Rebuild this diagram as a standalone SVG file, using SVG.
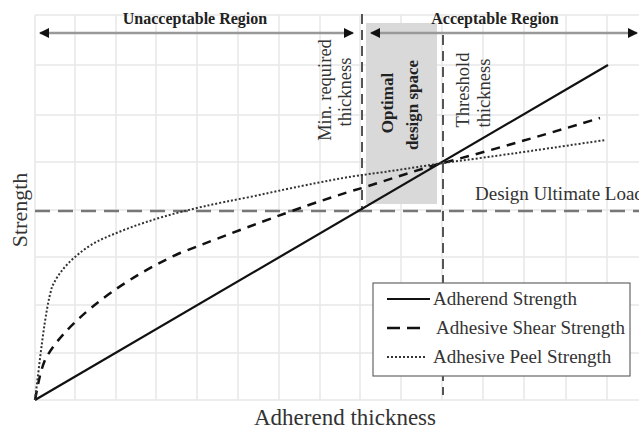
<svg xmlns="http://www.w3.org/2000/svg" width="639" height="430" viewBox="0 0 639 430">
<style>
.grid{stroke:#e8e8e8;stroke-width:1.5;fill:none}
.t{font-family:"Liberation Serif","Times New Roman",serif;fill:#333}
.b{font-weight:bold;fill:#222}
.arr{stroke:#999;stroke-width:2.5;fill:none}
.vd{stroke:#555;stroke-width:2;stroke-dasharray:10,6;fill:none}
</style>
<defs>
<marker id="ah" viewBox="0 0 10 10" refX="9" refY="5" markerWidth="4" markerHeight="4" orient="auto-start-reverse"><path d="M0,0 L10,5 L0,10 z" fill="#111"/></marker>
</defs>
<rect width="639" height="430" fill="#fff"/>
<g id="grid">
<path class="grid" d="M35,15V400M75,15V400M116,15V400M156,15V400M197,15V400M238,15V400M279,15V400M320,15V400M360,15V400M401,15V400M442,15V400M483,15V400M524,15V400M566,15V400M607,15V400M35,15H639M35,65H639M35,115H639M35,162H639M35,210H639M35,257H639M35,305H639M35,353H639M35,400H639"/>
</g>
<g id="optimal-region">
<rect x="366" y="23" width="71" height="181" fill="#d9d9d9"/>
<text class="t b" font-size="17" transform="translate(393,103) rotate(-90)" text-anchor="middle">Optimal</text>
<text class="t b" font-size="17" transform="translate(418,105) rotate(-90)" text-anchor="middle">design space</text>
</g>
<g id="connectors">
<path class="arr" d="M40,33H353" marker-start="url(#ah)" marker-end="url(#ah)"/>
<path class="arr" d="M371,33H637" marker-start="url(#ah)" marker-end="url(#ah)"/>
<path class="vd" d="M362,14V212"/>
<path class="vd" d="M443,35V395"/>
<path d="M35,211H639" stroke="#777" stroke-width="2.5" stroke-dasharray="15,8" fill="none"/>
<path d="M35,400L608,65" stroke="#111" stroke-width="2.2" fill="none"/>
<path d="M35,400C38,385 40,372 45,360C60,330 110,285 180,253C260,222 320,200 362,188C400,176 430,166 443,163C500,148 560,130 600,118" stroke="#111" stroke-width="2.5" stroke-dasharray="9,7" fill="none"/>
<path d="M35,400C40,360 45,310 52,287C60,268 80,250 100,240C140,222 180,210 250,197C300,186 340,178 362,175C400,170 430,165 443,163C520,153 570,145 606,140" stroke="#333" stroke-width="2" stroke-dasharray="2,2" fill="none"/>
</g>
<g id="labels">
<text class="t b" font-size="16" x="195" y="24" text-anchor="middle">Unacceptable Region</text>
<text class="t b" font-size="16" x="495" y="24" text-anchor="middle">Acceptable Region</text>
<text class="t" font-size="18.5" transform="translate(331,90) rotate(-90)" text-anchor="middle">Min. required</text>
<text class="t" font-size="18.5" transform="translate(351,92) rotate(-90)" text-anchor="middle">thickness</text>
<text class="t" font-size="18.5" transform="translate(469,90) rotate(-90)" text-anchor="middle">Threshold</text>
<text class="t" font-size="18.5" transform="translate(490,93) rotate(-90)" text-anchor="middle">thickness</text>
<text class="t" font-size="19" x="475" y="200">Design Ultimate Load</text>
<text class="t" font-size="22" transform="translate(27,210) rotate(-90)" text-anchor="middle">Strength</text>
<text class="t" font-size="23" x="345" y="425" text-anchor="middle">Adherend thickness</text>
</g>
<g id="legend">
<rect x="373" y="283" width="257" height="93" fill="#fff" stroke="#666" stroke-width="1.2"/>
<path d="M387,299H430" stroke="#111" stroke-width="2.2"/>
<path d="M387,328H400M407,328H420" stroke="#111" stroke-width="2.5"/>
<path d="M387,357H427" stroke="#333" stroke-width="2" stroke-dasharray="2,2"/>
<text class="t" font-size="19" x="433" y="305">Adherend Strength</text>
<text class="t" font-size="19" x="436" y="334">Adhesive Shear Strength</text>
<text class="t" font-size="19" x="433" y="363">Adhesive Peel Strength</text>
</g>
</svg>
